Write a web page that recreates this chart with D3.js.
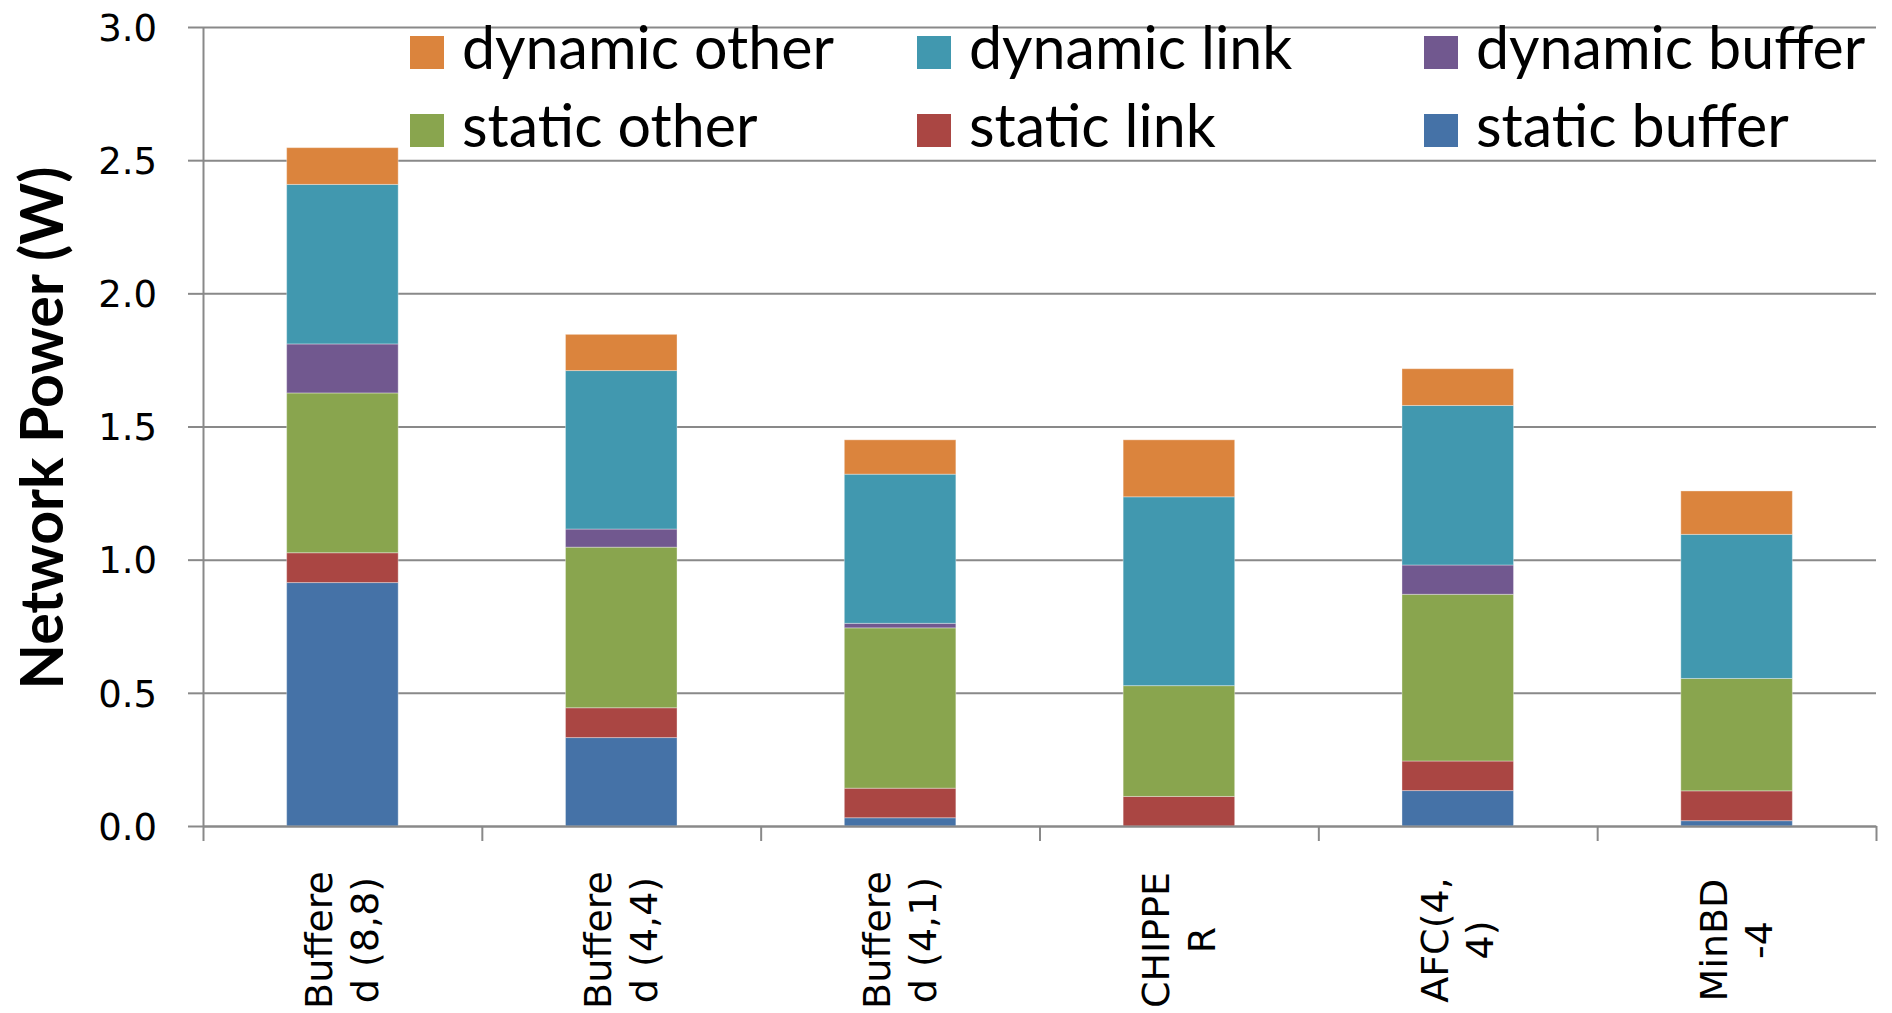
<!DOCTYPE html>
<html>
<head>
<meta charset="utf-8">
<script src="https://cdn.jsdelivr.net/npm/d3@7"></script>
<style>
  html, body { margin: 0; padding: 0; background: #fff; }
  svg { display: block; }
</style>
</head>
<body>
<svg id="chart" width="1892" height="1013"></svg>
<script>
// Network power breakdown per router design (W)
const categories = ["Buffered (8,8)", "Buffered (4,4)", "Buffered (4,1)", "CHIPPER", "AFC(4,4)", "MinBD-4"];
const categoryLines = [["Buffere", "d (8,8)"], ["Buffere", "d (4,4)"], ["Buffere", "d (4,1)"], ["CHIPPE", "R"], ["AFC(4,", "4)"], ["MinBD", "-4"]];

const staticBuffer  = [0.914, 0.332, 0.031, 0.000, 0.133, 0.020];
const staticLink    = [0.112, 0.112, 0.111, 0.111, 0.111, 0.112];
const staticOther   = [0.600, 0.603, 0.602, 0.416, 0.626, 0.422];
const dynamicBuffer = [0.184, 0.068, 0.017, 0.000, 0.110, 0.000];
const dynamicLink   = [0.599, 0.595, 0.560, 0.709, 0.599, 0.541];
const dynamicOther  = [0.138, 0.136, 0.129, 0.214, 0.138, 0.163];

const seriesNames  = ["static buffer", "static link", "static other", "dynamic buffer", "dynamic link", "dynamic other"];
const seriesValues = [staticBuffer, staticLink, staticOther, dynamicBuffer, dynamicLink, dynamicOther];
const seriesColors = ["#4572A7", "#AA4643", "#89A54E", "#71588F", "#4198AF", "#DB843D"];

const yTicks = [0, 0.5, 1.0, 1.5, 2.0, 2.5, 3.0];
const yTitle = "Network Power (W)";

// legend layout: two rows, three columns
const legendRows = [
  ["dynamic other", "dynamic link", "dynamic buffer"],
  ["static other", "static link", "static buffer"]
];

const svg = d3.select("#chart");
const plot = { left: 203, right: 1876, top: 27, bottom: 826 };
const gridColor = "#898989";

// rows for d3.stack
const table = categories.map((c, i) => {
  const row = { category: c };
  seriesNames.forEach((s, k) => row[s] = seriesValues[k][i]);
  return row;
});
const stacked = d3.stack().keys(seriesNames)(table);

const x = d3.scaleBand()
  .domain(categories)
  .range([plot.left, plot.right])
  .paddingInner(0.6)
  .paddingOuter(0.3);

const y = d3.scaleLinear().domain([0, 3]).range([plot.bottom, plot.top]);

// horizontal gridlines
const grid = svg.append("g")
  .attr("transform", `translate(${plot.left},0)`)
  .call(d3.axisLeft(y).tickValues(yTicks).tickSize(-(plot.right - plot.left)).tickFormat(""));
grid.select(".domain").remove();
grid.selectAll("line").attr("stroke", gridColor).attr("stroke-width", 2);

// y axis with outside ticks and labels
const yAxis = svg.append("g")
  .attr("transform", `translate(${plot.left},0)`)
  .call(d3.axisLeft(y).tickValues(yTicks).tickSize(15).tickSizeOuter(0).tickPadding(31).tickFormat(d3.format(".1f")));
yAxis.select(".domain").attr("stroke", gridColor).attr("stroke-width", 2);
yAxis.selectAll(".tick line").attr("stroke", gridColor).attr("stroke-width", 2);
yAxis.selectAll(".tick text")
  .attr("font-family", "'DejaVu Sans', Verdana, sans-serif")
  .attr("font-size", 37)
  .attr("fill", "#000")
  .attr("dy", "0.36em");

// stacked bars
svg.append("g").selectAll("g")
  .data(stacked)
  .join("g")
  .attr("fill", (d, k) => seriesColors[k])
  .selectAll("rect")
  .data(d => d)
  .join("rect")
  .attr("x", d => x(d.data.category))
  .attr("width", x.bandwidth())
  .attr("y", d => y(d[1]))
  .attr("height", d => Math.max(0, y(d[0]) - y(d[1])))
  .attr("stroke", "rgba(255,255,255,0.35)")
  .attr("stroke-width", 1);

// x axis: baseline and ticks on category boundaries
const boundary = d3.scaleLinear().domain([0, categories.length]).range([plot.left, plot.right]);
const xAxis = svg.append("g")
  .attr("transform", `translate(0,${plot.bottom})`)
  .call(d3.axisBottom(boundary).tickValues(d3.range(categories.length + 1)).tickSize(15).tickSizeOuter(0).tickFormat(""));
xAxis.select(".domain").attr("stroke", gridColor).attr("stroke-width", 2);
xAxis.selectAll(".tick line").attr("stroke", gridColor).attr("stroke-width", 2);

// rotated, wrapped category labels
const labelFontSize = 38;
const lineHeight = labelFontSize * 1.2;
const labelCenterY = 940;
const labels = svg.append("g").selectAll("g")
  .data(categories)
  .join("g")
  .attr("transform", d => `translate(${x(d) + x.bandwidth() / 2},${labelCenterY}) rotate(-90)`);
labels.each(function (d, i) {
  const g = d3.select(this);
  categoryLines[i].forEach((line, j) => {
    g.append("text")
      .attr("x", 0)
      .attr("y", -10 + j * lineHeight)
      .attr("text-anchor", "middle")
      .attr("font-family", "'DejaVu Sans', Verdana, sans-serif")
      .attr("font-size", labelFontSize)
      .attr("fill", "#000")
      .text(line);
  });
});

// y axis title
const title = svg.append("text")
  .attr("transform", `translate(63,428) rotate(-90)`)
  .attr("text-anchor", "middle")
  .attr("font-family", "Lato, 'Open Sans', sans-serif")
  .attr("font-weight", "bold")
  .attr("font-size", 56)
  .attr("fill", "#000")
  .text(yTitle);
{
  const w = title.node().getComputedTextLength();
  title.attr("font-size", 56 * 523 / w);
}

// legend
const legendX = [410, 917, 1424];
const legendBaseline = [69, 147];
const swatch = 33;
const legend = svg.append("g");
const legendTexts = [];
legendRows.forEach((row, r) => {
  row.forEach((name, c) => {
    const k = seriesNames.indexOf(name);
    legend.append("rect")
      .attr("x", legendX[c])
      .attr("y", legendBaseline[r] - swatch)
      .attr("width", swatch + 1)
      .attr("height", swatch)
      .attr("fill", seriesColors[k]);
    legendTexts.push(legend.append("text")
      .attr("x", legendX[c] + 52)
      .attr("y", legendBaseline[r])
      .attr("font-family", "Lato, 'Open Sans', sans-serif")
      .attr("font-size", 58)
      .attr("fill", "#000")
      .text(name));
  });
});
{
  const w = legendTexts[0].node().getComputedTextLength();
  const fs = 58 * 372 / w;
  legendTexts.forEach(t => t.attr("font-size", fs));
}
</script>
</body>
</html>
